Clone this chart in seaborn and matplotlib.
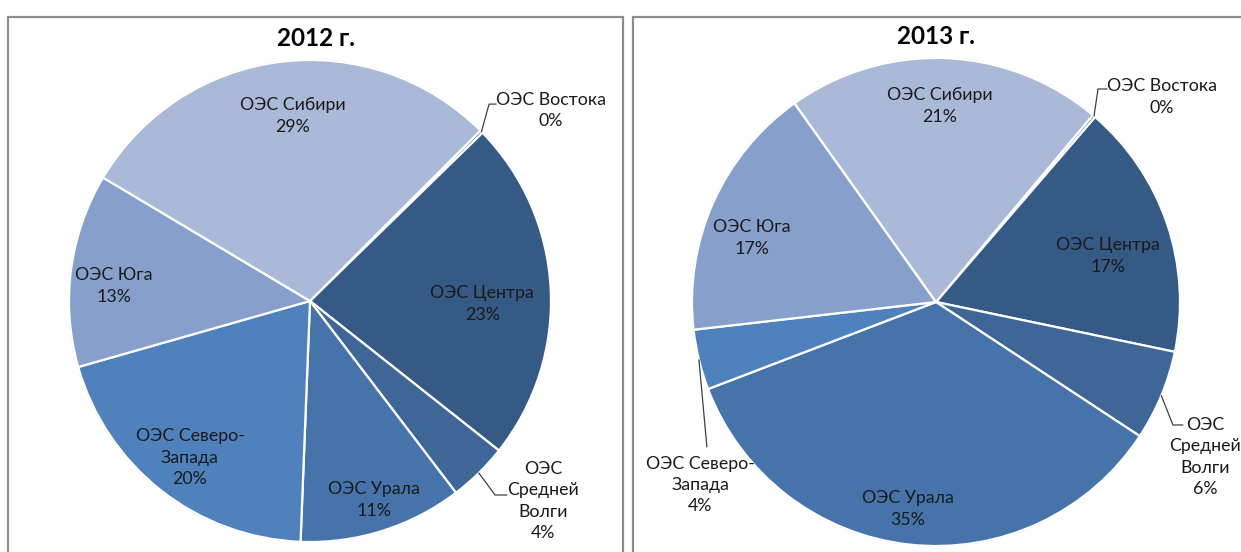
import matplotlib
matplotlib.use("Agg")
import matplotlib.pyplot as plt
import matplotlib.patches as mpatches
import seaborn as sns
import numpy as np

sns.set_theme(style="white")
plt.rcParams['font.family'] = ['Lato', 'DejaVu Sans']

# ---- data ----
regions = ["ОЭС Востока", "ОЭС Центра", "ОЭС\nСредней\nВолги", "ОЭС Урала",
           "ОЭС Северо-\nЗапада", "ОЭС Юга", "ОЭС Сибири"]
shares_2012 = [0.2, 23, 4, 11, 20, 13, 29]
shares_2013 = [0.2, 17, 6, 35, 4, 17, 21]
titles = ["2012 г.", "2013 г."]

colors = ["#2F5381", "#355A86", "#3E6797", "#4673AA", "#4F81BD", "#86A0CB", "#AAB9D7"]

# ---- layout (pie units) ----
label_pos_2012 = [(1.00, 0.79), (0.714, -0.012), (0.967, -0.83), (0.266, -0.826),
                  (-0.498, -0.651), (-0.813, 0.062), (-0.071, 0.768)]
label_pos_2013 = [(0.926, 0.84), (0.705, 0.189), (1.102, -0.635), (-0.115, -0.848),
                  (-0.967, -0.75), (-0.754, 0.262), (0.016, 0.803)]
leaders_2012 = {0: [(0.743, 0.817), (0.772, 0.817)], 2: [(0.768, -0.805), (0.817, -0.805)]}
leaders_2013 = {0: [(0.664, 0.873), (0.701, 0.873)], 2: [(0.971, -0.504), (1.012, -0.504)],
                4: [(-0.939, -0.594)]}

W, H = 1241, 552
fig = plt.figure(figsize=(W / 100, H / 100), dpi=100)

# panel borders
for x0, x1 in [(8, 623), (633, 1260)]:
    rect = mpatches.Rectangle((x0 / W, -0.1), (x1 - x0) / W, (H - 17) / H + 0.1,
                              transform=fig.transFigure, fill=False,
                              edgecolor="#8c8c8c", linewidth=1.6, clip_on=False)
    fig.patches.append(rect)

pies = [
    dict(cx=310, cy=301, R=241, vals=shares_2012, start=45, pos=label_pos_2012,
         lead=leaders_2012, title=titles[0], tx=316, ty=38),
    dict(cx=936, cy=302, R=244, vals=shares_2013, start=50, pos=label_pos_2013,
         lead=leaders_2013, title=titles[1], tx=936, ty=36),
]

for p in pies:
    cx, cy, R = p["cx"], p["cy"], p["R"]
    ax = fig.add_axes([(cx - R) / W, (H - cy - R) / H, 2 * R / W, 2 * R / H])
    wedges, _ = ax.pie(p["vals"], colors=colors, startangle=p["start"], counterclock=False,
                       radius=1.0, wedgeprops=dict(edgecolor="white", linewidth=1.6))
    ax.set_xlim(-1, 1)
    ax.set_ylim(-1, 1)
    ax.set_aspect("auto")
    ax.axis("off")
    # soft outline
    ax.add_patch(mpatches.Circle((0, 0), 1.0, fill=False, edgecolor="#d0d0d0", linewidth=1.2, zorder=0.5))
    total = sum(p["vals"])
    for i, (name, v) in enumerate(zip(regions, p["vals"])):
        pct = f"{round(v / total * 100)}%"
        x, y = p["pos"][i]
        ax.text(x, y, f"{name}\n{pct}", ha="center", va="center", fontsize=12.8,
                color="#1a1a1a", linespacing=1.42, clip_on=False)
        if i in p["lead"]:
            w = wedges[i]
            mid = np.deg2rad((w.theta1 + w.theta2) / 2)
            pts = [(np.cos(mid), np.sin(mid))] + p["lead"][i]
            xs, ys = zip(*pts)
            ax.plot(xs, ys, color="#404040", linewidth=0.9, clip_on=False)
    fig.text(p["tx"] / W, 1 - p["ty"] / H, p["title"], ha="center", va="center",
             fontsize=17.5, fontweight="bold", color="#000000")

fig.savefig("out.png", dpi=100)
